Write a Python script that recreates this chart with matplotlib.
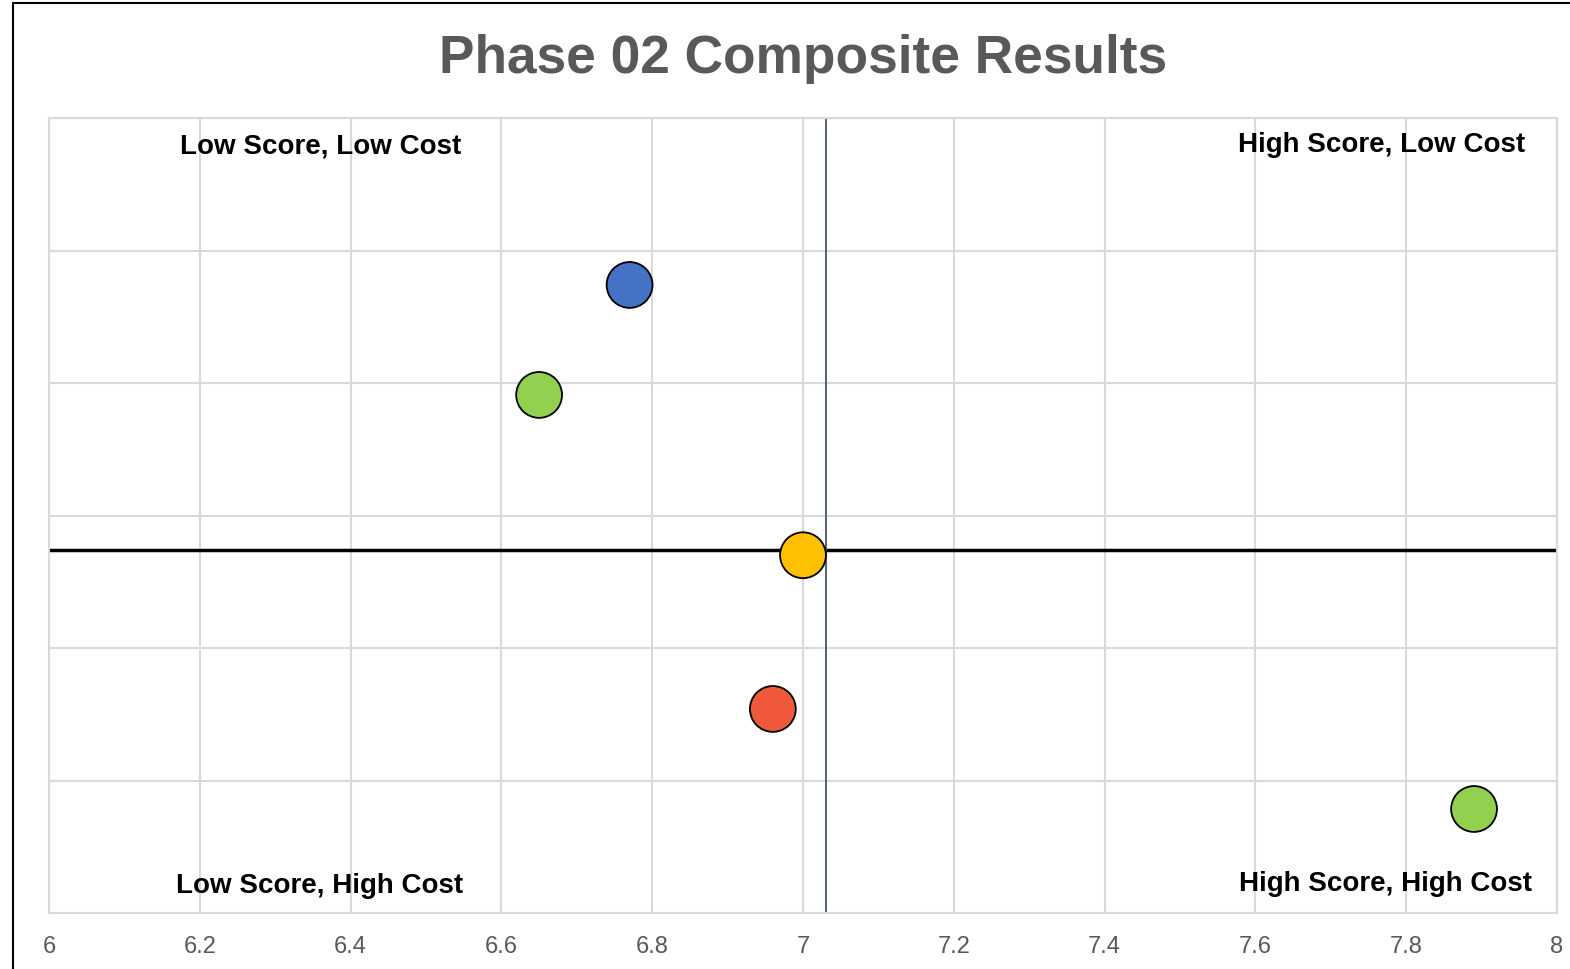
import matplotlib
matplotlib.use("Agg")
import matplotlib.pyplot as plt
from matplotlib.patches import Rectangle

plt.rcParams['font.family'] = ['Liberation Sans', 'DejaVu Sans']

# Data
scores = [6.77, 6.65, 7.00, 6.96, 7.89]
costs = [4.74, 3.91, 2.70, 1.54, 0.785]
colors = ['#4472C4', '#92D050', '#FFC000', '#F0583A', '#92D050']
x_ticks = [6, 6.2, 6.4, 6.6, 6.8, 7, 7.2, 7.4, 7.6, 7.8, 8]
x_tick_labels = ['6', '6.2', '6.4', '6.6', '6.8', '7', '7.2', '7.4', '7.6', '7.8', '8']
y_ticks = [0, 1, 2, 3, 4, 5, 6]
avg_score = 7.03
avg_cost = 2.74
quadrant_labels = ['Low Score, Low Cost', 'High Score, Low Cost',
                   'Low Score, High Cost', 'High Score, High Cost']
title = 'Phase 02 Composite Results'

W, H = 1570, 970
fig = plt.figure(figsize=(W / 100, H / 100), dpi=100)
fig.patches.append(Rectangle((13 / W, -0.1), 1.2, 1 - 4 / H + 0.1,
                             transform=fig.transFigure, fill=False,
                             edgecolor='black', linewidth=1.5))

ax = fig.add_axes([49 / W, 1 - 914 / H, (1557 - 49) / W, (914 - 119) / H])
ax.set_xlim(6, 8)
ax.set_ylim(0, 6)
ax.set_xticks(x_ticks)
ax.set_xticklabels(x_tick_labels)
ax.set_yticks(y_ticks)
ax.set_yticklabels([])
ax.tick_params(axis='both', length=0, labelsize=17, labelcolor='#595959', pad=16)
ax.grid(True, color='#D9D9D9', linewidth=1.5)
ax.set_axisbelow(True)
for s in ax.spines.values():
    s.set_visible(True)
    s.set_color('#D9D9D9')
    s.set_linewidth(1.5)

ax.axhline(avg_cost, color='black', linewidth=2.5, zorder=2)
ax.axvline(avg_score, color='#44546A', linewidth=1.3, zorder=2)

ax.scatter(scores, costs, s=1090, c=colors, edgecolors='black', linewidths=1.3, zorder=3)

fig.text(803 / W, 1 - 59 / H, title, ha='center', va='center', fontsize=38.3,
         fontweight='bold', color='#595959')

lbl_kw = dict(fontsize=20, fontweight='bold', color='black', va='center')
fig.text(321 / W, 1 - 147 / H, quadrant_labels[0], ha='center', **lbl_kw)
fig.text(1525 / W, 1 - 145 / H, quadrant_labels[1], ha='right', **lbl_kw)
fig.text(320 / W, 1 - 886 / H, quadrant_labels[2], ha='center', **lbl_kw)
fig.text(1532 / W, 1 - 884 / H, quadrant_labels[3], ha='right', **lbl_kw)

fig.savefig('out.png', dpi=100)
